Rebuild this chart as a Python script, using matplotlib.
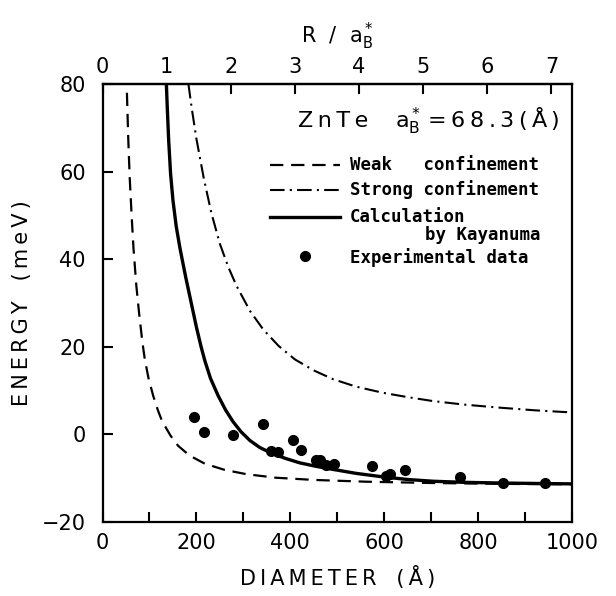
import matplotlib
matplotlib.use('Agg')
import matplotlib.pyplot as plt

# ZnTe 量子点 激子能量 vs 直径
a_B = 68.3  # Bohr radius (A)

# weak confinement (dashed)
weak_d = [52, 55, 58, 62, 66, 72, 78, 85, 90, 98, 108, 118, 127, 145, 161, 185, 218, 260, 307, 370, 450, 560, 700, 850, 1000]
weak_e = [78, 67, 58.5, 50, 42.5, 34, 27.6, 21, 17.2, 12.8, 8.8, 5.5, 3.0, -0.3, -2.6, -4.8, -6.7, -8.1, -9.1, -9.9, -10.4, -10.8, -11.1, -11.3, -11.4]

# strong confinement (dash-dot)
strong_d = [183, 190, 200, 216, 232, 250, 268, 285, 314, 342, 375, 410, 450, 491, 540, 597, 650, 704, 770, 846, 920, 1000]
strong_e = [80, 74.5, 67.5, 58.3, 50.5, 43.5, 38.2, 34.0, 28.2, 24.0, 20.2, 17.1, 14.6, 12.6, 10.9, 9.5, 8.5, 7.6, 6.8, 6.1, 5.5, 5.0]

# calculation by Kayanuma (solid)
calc_d = [136, 138, 141, 145, 150, 157, 165, 177, 188, 200, 210, 218, 230, 246, 262, 278, 295, 314, 335, 360, 390,
          420, 455, 491, 540, 597, 650, 704, 770, 846, 920, 1000]
calc_e = [80, 74.5, 67, 59.5, 53.5, 47.5, 42.5, 36, 30.5, 24.5, 20.0, 16.8, 12.8, 8.9, 5.6, 2.9, 0.6, -1.4, -3.0, -4.3, -5.5,
          -6.5, -7.3, -8.0, -8.9, -9.7, -10.3, -10.7, -10.95, -11.1, -11.2, -11.3]

# experimental data
exp_d = [195, 217, 278, 342, 358, 373, 405, 422, 454, 463, 477, 493, 573, 603, 612, 644, 761, 853, 943]
exp_e = [4.0, 0.6, -0.1, 2.3, -3.9, -4.0, -1.3, -3.6, -5.9, -5.9, -6.9, -6.8, -7.2, -9.4, -9.1, -8.2, -9.7, -11.2, -11.0]

x_ticks = list(range(0, 1001, 100))
x_labels = ['0', '', '200', '', '400', '', '600', '', '800', '', '1000']
y_ticks = [-20, 0, 20, 40, 60, 80]
r_ticks = [0, 1, 2, 3, 4, 5, 6, 7]

ts = '\u2009'  # thin space, for the wide lettering

fig = plt.figure(figsize=(6.16, 5.96), dpi=100)
ax = fig.add_axes([0.1664, 0.1242, 0.7622, 0.7349])

ax.plot(weak_d, weak_e, color='black', lw=1.6, dashes=(6, 3.5))
ax.plot(strong_d, strong_e, color='black', lw=1.5, dashes=(7, 2.5, 1, 2.5))
ax.plot(calc_d, calc_e, color='black', lw=2.4)
ax.plot(exp_d, exp_e, 'o', color='black', ms=7)

ax.set_xlim(0, 1000)
ax.set_ylim(-20, 80)
ax.set_xticks(x_ticks)
ax.set_xticklabels(x_labels)
ax.set_yticks(y_ticks)
for s in ax.spines.values():
    s.set_linewidth(1.6)
ax.tick_params(axis='x', direction='in', length=7, width=1.5, labelsize=15, pad=8)
ax.tick_params(axis='y', direction='in', length=7, width=1.5, labelsize=15, pad=12)

sec = ax.secondary_xaxis('top', functions=(lambda d: d / (2 * a_B), lambda r: r * 2 * a_B))
sec.set_xticks(r_ticks)
sec.tick_params(direction='in', length=7, width=1.5, labelsize=15, pad=5)
sec.spines['top'].set_linewidth(1.6)
sec.set_xlabel('R  /  ' + r'$\mathregular{a_B^*}$', fontsize=15, labelpad=10)

ax.set_xlabel(ts.join('DIAMETER') + '   ' + ts.join('(Å)'), fontsize=15, labelpad=9)
ax.set_ylabel(ts.join('ENERGY') + '   ' + ts.join('(meV)'), fontsize=15, labelpad=7)

# 标题
ax.text(0.416, 0.916, ts.join('ZnTe'), transform=ax.transAxes, fontsize=16, va='center')
ax.text(0.623, 0.916, r'$\mathregular{a_B^*}$' + ts + ts.join('=68.3(Å)'),
        transform=ax.transAxes, fontsize=16, va='center')

# 图例 (手动)
mono = dict(family='DejaVu Sans Mono', weight='bold', fontsize=12.5, va='center', transform=ax.transAxes)
hx = [0.357, 0.506]
ax.plot(hx, [0.815, 0.815], color='black', lw=1.6, dashes=(6, 3.5), transform=ax.transAxes)
ax.plot(hx, [0.758, 0.758], color='black', lw=1.5, dashes=(7, 2.5, 1, 2.5), transform=ax.transAxes)
ax.plot(hx, [0.696, 0.696], color='black', lw=2.4, transform=ax.transAxes)
ax.plot([0.431], [0.607], 'o', color='black', ms=7, transform=ax.transAxes)
ax.text(0.527, 0.815, 'Weak   confinement', **mono)
ax.text(0.527, 0.758, 'Strong confinement', **mono)
ax.text(0.527, 0.696, 'Calculation', **mono)
ax.text(0.687, 0.655, 'by Kayanuma', **mono)
ax.text(0.527, 0.603, 'Experimental data', **mono)

fig.savefig('out.png', dpi=100)
